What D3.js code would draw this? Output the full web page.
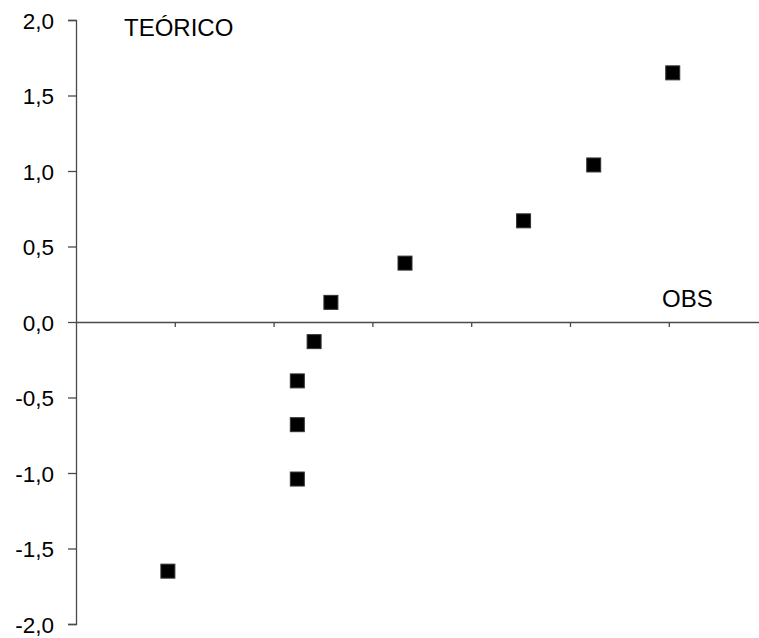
<!DOCTYPE html>
<html>
<head>
<meta charset="utf-8">
<script src="https://cdn.jsdelivr.net/npm/d3@7"></script>
<style>
  html, body { margin: 0; padding: 0; background: #fff; }
  svg { display: block; font-family: "Liberation Sans", Arial, Helvetica, sans-serif; }
</style>
</head>
<body>
<svg id="chart" width="759" height="638"></svg>
<script>
// Observed values (sorted) and their theoretical normal quantiles
const obsValues = [0.93, 2.24, 2.24, 2.24, 2.41, 2.58, 3.33, 4.53, 5.24, 6.04];
const theoreticalValues = [-1.65, -1.04, -0.68, -0.39, -0.13, 0.13, 0.39, 0.67, 1.04, 1.65];
const yTickValues = [-2.0, -1.5, -1.0, -0.5, 0.0, 0.5, 1.0, 1.5, 2.0];
const xTickValues = [1, 2, 3, 4, 5, 6];
const xTitle = "OBS";
const yTitle = "TEÓRICO";

const points = obsValues.map((v, i) => ({ x: v, y: theoreticalValues[i] }));

const svg = d3.select("#chart");
const axisColor = "#4a4a4a";

const x = d3.scaleLinear().domain([0, 6.92]).range([76, 759.7]);
const y = d3.scaleLinear().domain([-2, 2]).range([624, 20]);

const locale = d3.formatLocale({ decimal: ",", thousands: ".", grouping: [3], currency: ["", ""], minus: "-" });
const fmt = locale.format(".1f");

// Vertical axis with labelled ticks on the left
const yAxis = svg.append("g")
  .attr("transform", `translate(${x(0)},0)`)
  .call(d3.axisLeft(y).tickValues(yTickValues).tickFormat(fmt).tickSize(8).tickPadding(14));
yAxis.select(".domain").attr("stroke", axisColor).attr("stroke-width", 1.3);
yAxis.selectAll(".tick line").attr("stroke", axisColor).attr("stroke-width", 1.3);
yAxis.selectAll(".tick text")
  .attr("fill", "#000")
  .style("font-size", "22.5px")
  .attr("dy", "0.36em")
  .style("font-family", "'Liberation Sans', Arial, sans-serif");

// Horizontal axis through zero with unlabelled ticks below
const xAxis = svg.append("g")
  .attr("transform", `translate(0,${y(0)})`)
  .call(d3.axisBottom(x).tickValues(xTickValues).tickFormat("").tickSize(5).tickSizeOuter(0));
xAxis.select(".domain").attr("stroke", axisColor).attr("stroke-width", 1.3);
xAxis.selectAll(".tick line").attr("stroke", axisColor).attr("stroke-width", 1.3);

// Axis titles
svg.append("text")
  .attr("x", 124).attr("y", 36)
  .style("font-size", "24px")
  .text(yTitle);
svg.append("text")
  .attr("x", 662).attr("y", 307)
  .style("font-size", "24px")
  .text(xTitle);

// Square markers
const size = 14;
svg.append("g")
  .selectAll("rect")
  .data(points)
  .join("rect")
  .attr("x", d => x(d.x) - size / 2)
  .attr("y", d => y(d.y) - size / 2)
  .attr("width", size)
  .attr("height", size)
  .attr("fill", "#000")
  .attr("stroke", "#333")
  .attr("stroke-width", 1);
</script>
</body>
</html>
